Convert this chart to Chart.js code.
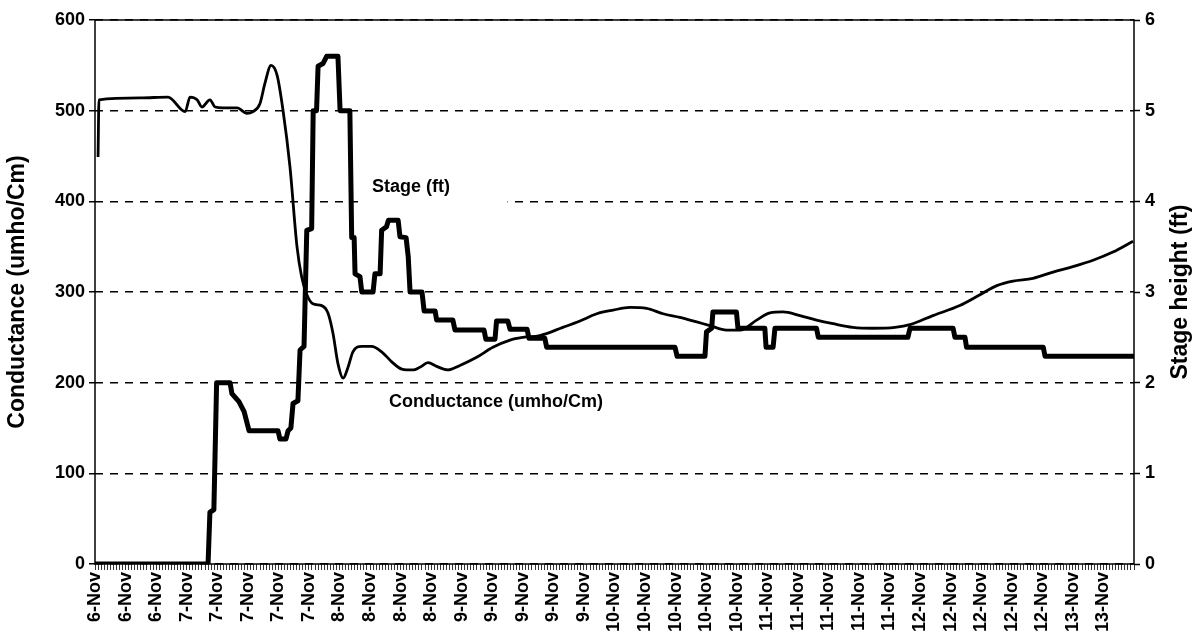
<!DOCTYPE html>
<html>
<head>
<meta charset="utf-8">
<script src="https://cdn.jsdelivr.net/npm/chart.js@4.4.1/dist/chart.umd.min.js"></script>
<style>
  html, body { margin: 0; padding: 0; background: #fff; }
  #wrap { width: 1197px; height: 640px; }
</style>
</head>
<body>
<div id="wrap"><canvas id="c" width="1197" height="640"></canvas></div>
<script>
// Category tick labels (one per label interval on the x axis)
const xLabels = ['6-Nov','6-Nov','6-Nov',
  '7-Nov','7-Nov','7-Nov','7-Nov','7-Nov',
  '8-Nov','8-Nov','8-Nov','8-Nov',
  '9-Nov','9-Nov','9-Nov','9-Nov','9-Nov',
  '10-Nov','10-Nov','10-Nov','10-Nov','10-Nov',
  '11-Nov','11-Nov','11-Nov','11-Nov','11-Nov',
  '12-Nov','12-Nov','12-Nov','12-Nov','12-Nov',
  '13-Nov','13-Nov'];

// Conductance (umho/Cm) — x position in label-interval units
const condX = [0.10,0.13,1.47,2.39,2.95,3.11,3.34,3.50,3.76,3.93,4.19,4.65,4.97,5.17,5.40,5.56,5.76,5.96,6.15,6.38,6.61,6.76,6.92,7.13,7.42,7.62,7.79,7.95,8.12,8.28,8.44,8.73,9.05,9.38,9.71,10.04,10.41,10.63,10.90,11.18,11.55,11.94,12.49,13.02,13.58,14.01,14.56,15.31,15.87,16.42,16.95,17.51,18.05,18.59,19.14,19.69,20.12,20.67,21.11,21.65,22.09,22.51,23.07,23.61,24.15,24.80,25.46,26.18,26.67,27.42,28.30,28.96,29.51,30.04,30.69,31.35,32.00,32.66,33.31,33.97];
const condVal = [449,512,514,515,499,515,512,504,512,504,503,503,497,499,508,530,550,539,501,438,350,317,298,287,285,277,254,221,205,217,234,240,240,234,223,215,214,217,222,218,214,219,228,239,247,250,252,261,268,276,280,283,282,276,272,267,263,258,258,269,277,278,274,269,265,261,260,261,264,274,285,297,307,312,315,322,328,335,344,356];

// Stage (ft)
const stageX = [0,3.70,3.76,3.89,3.98,4.42,4.48,4.71,4.88,5.04,5.99,6.05,6.25,6.32,6.41,6.48,6.64,6.71,6.84,6.93,7.09,7.14,7.25,7.30,7.46,7.58,7.95,8.02,8.34,8.40,8.48,8.51,8.67,8.73,9.10,9.16,9.33,9.38,9.54,9.60,9.92,9.98,10.18,10.25,10.31,10.70,10.77,11.13,11.18,11.71,11.78,12.73,12.79,13.09,13.14,13.51,13.58,14.14,14.20,14.72,14.78,18.98,19.05,19.96,20.01,20.18,20.22,20.99,21.04,21.92,21.96,22.19,22.25,23.61,23.67,26.60,26.67,28.08,28.14,28.47,28.52,31.03,31.09,33.97];
const stageFt = [0,0,0.57,0.6,2.0,2.0,1.88,1.79,1.68,1.47,1.47,1.38,1.38,1.47,1.5,1.77,1.8,2.36,2.4,3.68,3.7,5.0,5.0,5.49,5.52,5.6,5.6,5.0,5.0,3.6,3.6,3.2,3.17,3.0,3.0,3.2,3.2,3.68,3.72,3.79,3.79,3.61,3.6,3.39,3.0,3.0,2.79,2.79,2.69,2.69,2.58,2.58,2.48,2.48,2.68,2.68,2.59,2.59,2.49,2.49,2.39,2.39,2.29,2.29,2.56,2.6,2.78,2.78,2.6,2.6,2.39,2.39,2.6,2.6,2.5,2.5,2.6,2.6,2.5,2.5,2.39,2.39,2.29,2.29];

const condTicks = [0,100,200,300,400,500,600];
const stageTicks = [0,1,2,3,4,5,6];

const FONT = 'Liberation Sans, Arial, sans-serif';

const decor = {
  id: 'decor',
  beforeDraw(chart) {
    const ctx = chart.ctx;
    ctx.save();
    ctx.fillStyle = '#fff';
    ctx.fillRect(0, 0, chart.width, chart.height);
    ctx.restore();
  },
  beforeDatasetsDraw(chart) {
    const {ctx, scales} = chart;
    // white label box for "Stage (ft)" covering gridline
    const x1 = scales.x.getPixelForValue(8.74), x2 = scales.x.getPixelForValue(13.5);
    const yT = scales.y.getPixelForValue(445), yB = scales.y.getPixelForValue(385);
    ctx.save();
    ctx.fillStyle = '#fff';
    ctx.fillRect(x1, yT, x2 - x1, yB - yT);
    ctx.restore();
  },
  afterDatasetsDraw(chart) {
    const {ctx, chartArea: a, scales} = chart;
    ctx.save();
    ctx.strokeStyle = '#000';
    ctx.lineWidth = 1.5;
    ctx.strokeRect(a.left, a.top, a.right - a.left, a.bottom - a.top);
    ctx.fillStyle = '#000';
    ctx.font = 'bold 18px ' + FONT;
    ctx.textAlign = 'center';
    ctx.textBaseline = 'middle';
    ctx.fillText('Stage (ft)', scales.x.getPixelForValue(10.34), scales.y.getPixelForValue(416));
    ctx.fillText('Conductance (umho/Cm)', scales.x.getPixelForValue(13.12), scales.y.getPixelForValue(179));
    // right axis title, reading bottom-to-top
    ctx.font = 'bold 23px ' + FONT;
    ctx.translate(1181, (a.top + a.bottom) / 2);
    ctx.rotate(-Math.PI / 2);
    ctx.fillText('Stage height (ft)', 0, 0);
    ctx.restore();
  }
};

new Chart(document.getElementById('c'), {
  type: 'line',
  data: {
    datasets: [
      {
        label: 'Conductance (umho/Cm)',
        data: condX.map((x, i) => ({x, y: condVal[i]})),
        yAxisID: 'y',
        borderColor: '#000',
        borderWidth: 2.8,
        pointRadius: 0,
        cubicInterpolationMode: 'monotone',
        fill: false
      },
      {
        label: 'Stage (ft)',
        data: stageX.map((x, i) => ({x, y: stageFt[i]})),
        yAxisID: 'y2',
        borderColor: '#000',
        borderWidth: 5,
        borderJoinStyle: 'round',
        borderCapStyle: 'round',
        pointRadius: 0,
        tension: 0,
        fill: false
      }
    ]
  },
  options: {
    responsive: false,
    animation: false,
    devicePixelRatio: 1,
    layout: { padding: { top: 20, left: 0, right: 0, bottom: 0 } },
    plugins: { legend: { display: false }, tooltip: { enabled: false } },
    scales: {
      x: {
        type: 'linear',
        min: 0,
        max: xLabels.length,
        afterBuildTicks(scale) {
          const t = [];
          for (let i = 0; i <= xLabels.length * 10; i++) t.push({ value: i / 10 });
          scale.ticks = t;
        },
        afterFit(scale) { scale.height = 76; },
        grid: { drawOnChartArea: false, drawTicks: true, tickLength: 6, color: '#333', lineWidth: 1 },
        border: { display: false },
        ticks: {
          autoSkip: false,
          maxRotation: 90,
          minRotation: 90,
          padding: 2,
          color: '#000',
          font: { family: FONT, weight: 'bold', size: 18 },
          callback(v) {
            const r = Math.round(v);
            if (Math.abs(v - r) < 1e-6 && r < xLabels.length) return xLabels[r];
            return '';
          }
        }
      },
      y: {
        position: 'left',
        min: 0, max: 600,
        afterBuildTicks(scale) { scale.ticks = condTicks.map(v => ({ value: v })); },
        afterFit(scale) { scale.width = 95; },
        grid: { color: '#000', lineWidth: 1.5, tickLength: 6, tickColor: '#000', tickWidth: 1.5, tickBorderDash: [] },
        border: { display: false, dash: [8, 7] },
        title: { display: true, text: 'Conductance (umho/Cm)', color: '#000', font: { family: FONT, weight: 'bold', size: 23 }, padding: { top: 4, bottom: 0 } },
        ticks: { color: '#000', padding: 4, font: { family: FONT, weight: 'bold', size: 18 } }
      },
      y2: {
        position: 'right',
        min: 0, max: 6,
        afterBuildTicks(scale) { scale.ticks = stageTicks.map(v => ({ value: v })); },
        afterFit(scale) { scale.width = 63; },
        grid: { drawOnChartArea: false, color: '#000', tickLength: 6, tickWidth: 1.5 },
        border: { display: false },
        ticks: { color: '#000', padding: 5, font: { family: FONT, weight: 'bold', size: 18 } }
      }
    }
  },
  plugins: [decor]
});
</script>
</body>
</html>
